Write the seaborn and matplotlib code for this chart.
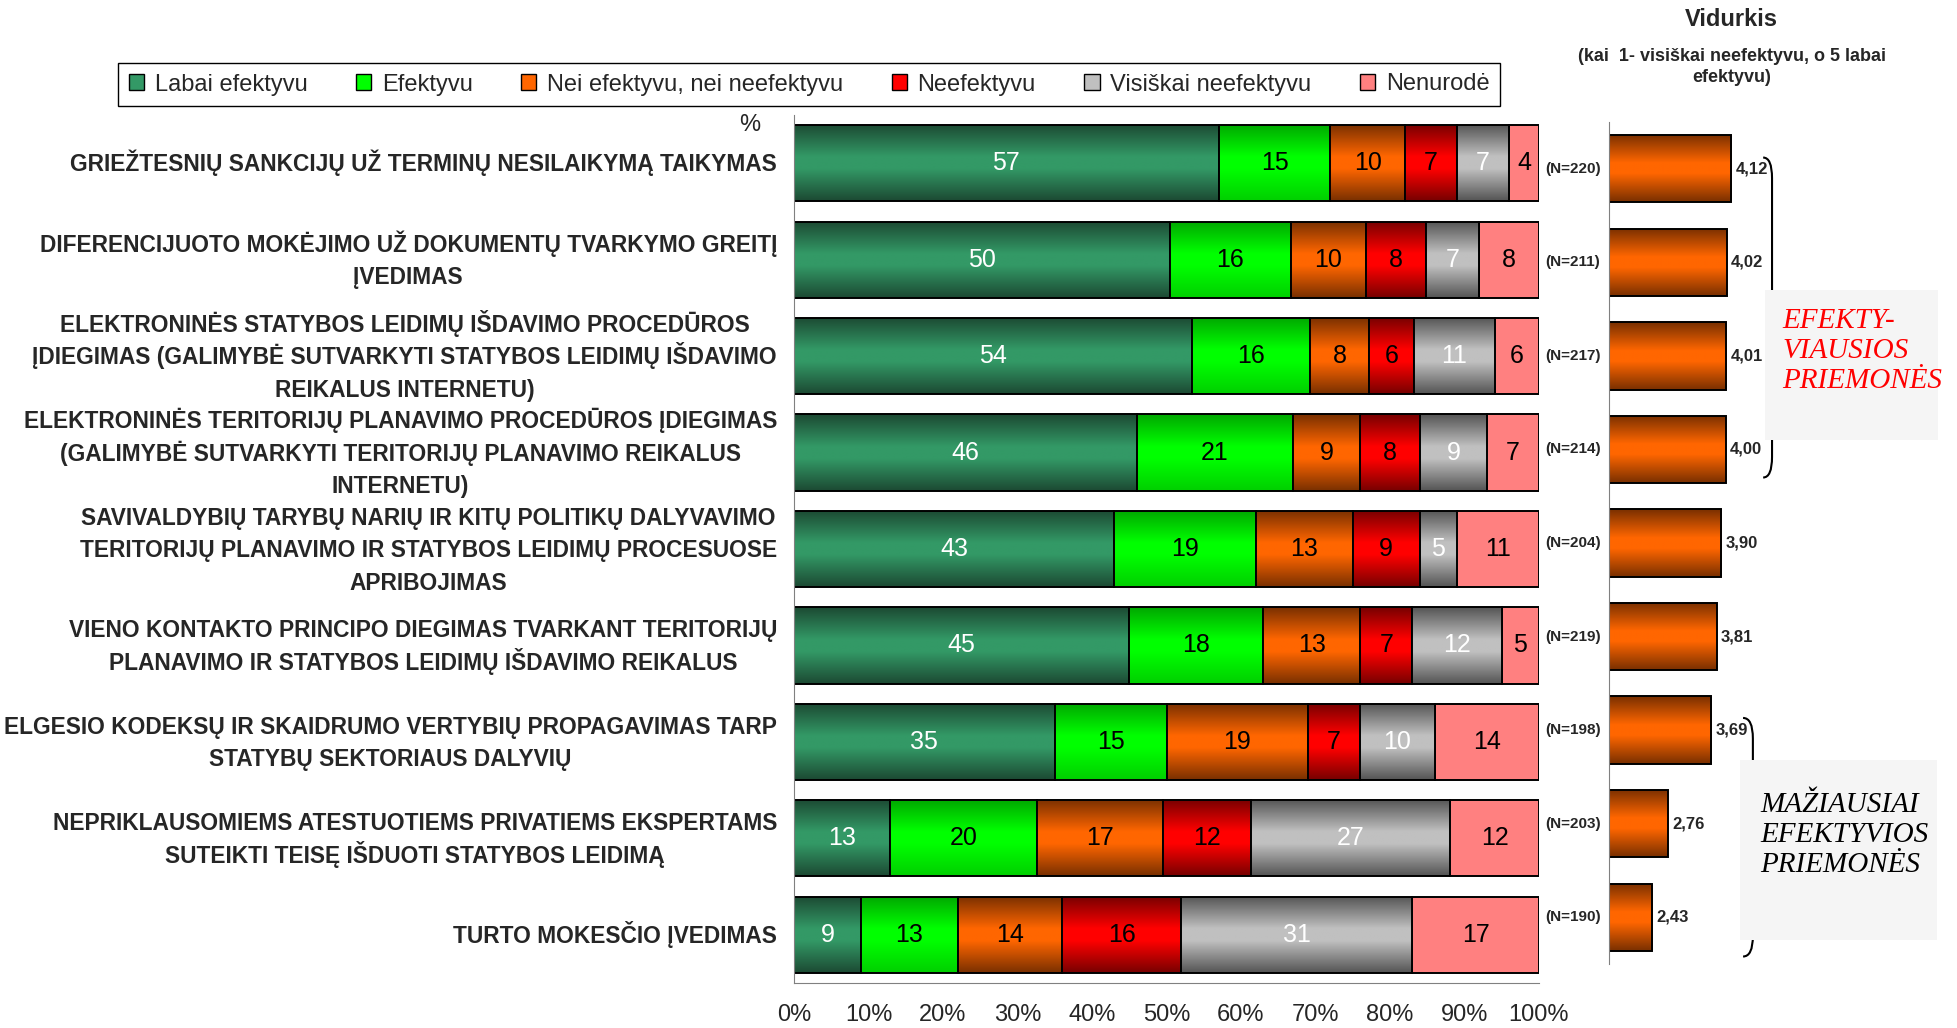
# Priemonių efektyvumo vertinimas: 100% sukrauti stulpeliai + vidurkiai
import numpy as np
import matplotlib
matplotlib.use("Agg")
import matplotlib.pyplot as plt
import seaborn as sns
from matplotlib.colors import LinearSegmentedColormap
from matplotlib.patches import Patch, PathPatch, Rectangle
from matplotlib.path import Path

# --- duomenys ---
labels = [
    "GRIEŽTESNIŲ SANKCIJŲ UŽ TERMINŲ NESILAIKYMĄ TAIKYMAS",
    "DIFERENCIJUOTO MOKĖJIMO UŽ DOKUMENTŲ TVARKYMO GREITĮ\nĮVEDIMAS",
    "ELEKTRONINĖS STATYBOS LEIDIMŲ IŠDAVIMO PROCEDŪROS\nĮDIEGIMAS (GALIMYBĖ SUTVARKYTI STATYBOS LEIDIMŲ IŠDAVIMO\nREIKALUS INTERNETU)",
    "ELEKTRONINĖS TERITORIJŲ PLANAVIMO PROCEDŪROS ĮDIEGIMAS\n(GALIMYBĖ SUTVARKYTI TERITORIJŲ PLANAVIMO REIKALUS\nINTERNETU)",
    "SAVIVALDYBIŲ TARYBŲ NARIŲ IR KITŲ POLITIKŲ DALYVAVIMO\nTERITORIJŲ PLANAVIMO IR STATYBOS LEIDIMŲ PROCESUOSE\nAPRIBOJIMAS",
    "VIENO KONTAKTO PRINCIPO DIEGIMAS TVARKANT TERITORIJŲ\nPLANAVIMO IR STATYBOS LEIDIMŲ IŠDAVIMO REIKALUS",
    "ELGESIO KODEKSŲ IR SKAIDRUMO VERTYBIŲ PROPAGAVIMAS TARP\nSTATYBŲ SEKTORIAUS DALYVIŲ",
    "NEPRIKLAUSOMIEMS ATESTUOTIEMS PRIVATIEMS EKSPERTAMS\nSUTEIKTI TEISĘ IŠDUOTI STATYBOS LEIDIMĄ",
    "TURTO MOKESČIO ĮVEDIMAS",
]
series_names = ["Labai efektyvu", "Efektyvu", "Nei efektyvu, nei neefektyvu",
                "Neefektyvu", "Visiškai neefektyvu", "Nenurodė"]
labai = [57, 50, 54, 46, 43, 45, 35, 13, 9]
efektyvu = [15, 16, 16, 21, 19, 18, 15, 20, 13]
nei = [10, 10, 8, 9, 13, 13, 19, 17, 14]
neefektyvu = [7, 8, 6, 8, 9, 7, 7, 12, 16]
visiskai = [7, 7, 11, 9, 5, 12, 10, 27, 31]
nenurode = [4, 8, 6, 7, 11, 5, 14, 12, 17]
n_resp = [220, 211, 217, 214, 204, 219, 198, 203, 190]
vidurkis = [4.12, 4.02, 4.01, 4.00, 3.90, 3.81, 3.69, 2.76, 2.43]

# --- stiliai ---
base_colors = ["#339966", "#00ff00", "#ff6600", "#ff0000", "#c0c0c0", "#ff8080"]
grad_colors = [
    ["#1c4a33", "#339966", "#339966", "#1c4a33"],
    ["#00a800", "#00ff00", "#00ff00", "#00d000"],
    ["#7a3000", "#ff6600", "#ff6600", "#7a3000"],
    ["#780000", "#ff0000", "#ff0000", "#780000"],
    ["#555555", "#c0c0c0", "#c0c0c0", "#555555"],
    None,
]
text_colors = ["white", "black", "black", "black", "white", "black"]

sns.set_style("white")
plt.rcParams["font.family"] = ["Liberation Sans", "DejaVu Sans"]


def gradient(ax, patch, colors, z):
    x0, y0 = patch.get_x(), patch.get_y()
    w, h = patch.get_width(), patch.get_height()
    x1 = x0 + w
    x0 = max(x0, ax.get_xlim()[0])
    cmap = LinearSegmentedColormap.from_list(
        "g", list(zip([0, 0.42, 0.58, 1], colors)))
    img = np.linspace(0, 1, 100).reshape(-1, 1)
    im = ax.imshow(img, cmap=cmap, extent=(x0, x1, y0 + h, y0),
                   origin="upper", aspect="auto", interpolation="bilinear",
                   zorder=z)
    im.set_clip_path(patch)
    patch.set_facecolor("none")
    patch.set_zorder(z + 0.5)


W, H = 1957, 1028
fig = plt.figure(figsize=(W / 100, H / 100), dpi=100)
ax = fig.add_axes([794 / W, 1 - 983 / H, 745 / W, 868 / H])
ax2 = fig.add_axes([1609 / W, 1 - 964 / H, 163.5 / W, 842 / H])

data = np.array([labai, efektyvu, nei, neefektyvu, visiskai, nenurode], float)
totals = data.sum(axis=0)
cum = np.zeros(len(labels))
for k, vals in enumerate(data):
    right = cum + vals
    sns.barplot(x=right / totals * 100, y=labels, order=labels, orient="h",
                color=base_colors[k], saturation=1, width=0.79,
                edgecolor="black", linewidth=1.4, ax=ax)
    cont = ax.containers[-1]
    ax.set_xlim(0, 100)
    for p, left in zip(cont.patches, cum / totals * 100):
        p.set_width(p.get_width() - left)
        p.set_x(left)
        if grad_colors[k] is not None:
            gradient(ax, p, grad_colors[k], 2 + k)
    ax.bar_label(cont, labels=[str(int(v)) for v in vals], label_type="center",
                 color=text_colors[k], fontsize=18, zorder=20)
    cum = right

ax.set_xlim(0, 100)
ax.set_ylim(len(labels) - 0.5, -0.5)
ax.set_xticks(np.arange(0, 101, 10))
ax.set_xticklabels([f"{v}%" for v in range(0, 101, 10)], fontsize=17)
ax.set_yticks(np.arange(-0.5, len(labels), 1), minor=True)
ax.set_yticklabels([])
ax.tick_params(axis="y", which="major", length=0)
ax.tick_params(axis="y", which="minor", length=5, color="#808080", direction="out")
ax.tick_params(axis="x", length=5, color="#808080", direction="out", pad=10)
for s in ["top", "right"]:
    ax.spines[s].set_visible(False)
for s in ["left", "bottom"]:
    ax.spines[s].set_color("#808080")
ax.set_xlabel("")
ax.set_ylabel("")

# kategorijų užrašai: eilutės centruotos, vienodas tarpas tarp eilučių
lab_fs = 16.4
line_dy = 0.337          # eilučių tarpas kategorijos vienetais
right_pad = 17           # px nuo ašies
renderer = fig.canvas.get_renderer()
for i, lab in enumerate(labels):
    lines = lab.split("\n")
    widths = []
    for ln in lines:
        t = fig.text(0, 0, ln, fontsize=lab_fs, fontweight="bold")
        widths.append(t.get_window_extent(renderer).width)
        t.remove()
    xc = -(right_pad + max(widths) / 2) * 0.72
    for j, ln in enumerate(lines):
        yy = i + (j - (len(lines) - 1) / 2) * line_dy
        ax.annotate(ln, xy=(0, yy), xycoords=("axes fraction", "data"),
                    xytext=(xc, -0.36 * lab_fs), textcoords="offset points",
                    ha="center", va="baseline", fontsize=lab_fs,
                    fontweight="bold", annotation_clip=False)

# --- vidurkiai ---
sns.barplot(x=vidurkis, y=labels, order=labels, orient="h", color="#ff6600",
            saturation=1, width=0.72, edgecolor="black", linewidth=1.4, ax=ax2)
ax2.set_xlim(1.5, 5.0)
cont2 = ax2.containers[-1]
for p in cont2.patches:
    gradient(ax2, p, grad_colors[2], 2)
ax2.bar_label(cont2, labels=[f"{v:.2f}".replace(".", ",") for v in vidurkis],
              padding=3, fontsize=12, fontweight="bold", zorder=20)
ax2.set_xlim(1.5, 5.0)
ax2.set_ylim(len(labels) - 0.5, -0.5)
ax2.set_xticks([])
ax2.set_yticks([])
ax2.set_yticks(np.arange(-0.5, len(labels), 1), minor=True)
ax2.tick_params(axis="y", which="minor", length=5, color="#808080", direction="out")
for s in ["top", "right", "bottom"]:
    ax2.spines[s].set_visible(False)
ax2.spines["left"].set_color("#808080")
ax2.spines["left"].set_zorder(10)
ax2.set_xlabel("")
ax2.set_ylabel("")

for i, n in enumerate(n_resp):
    ax2.annotate(f"(N={n})", xy=(0, i), xycoords=("axes fraction", "data"),
                 xytext=(-46, 0), textcoords="offset points", ha="left",
                 va="center", fontsize=11, fontweight="bold")

# --- antraštės ---
fig.text(1731 / W, 1 - 19 / H, "Vidurkis", ha="center", va="center",
         fontsize=17, fontweight="bold")
fig.text(1732 / W, 1 - 67 / H, "(kai  1- visiškai neefektyvu, o 5 labai\nefektyvu)",
         ha="center", va="center", fontsize=13, fontweight="bold", linespacing=1.25)
fig.text(750 / W, 1 - 125 / H, "%", ha="center", va="center", fontsize=17)

handles = [Patch(facecolor=c, edgecolor="black", linewidth=1) for c in base_colors]
leg = fig.legend(handles, series_names, ncol=6, loc="center",
                 bbox_to_anchor=(809 / W, 1 - 84.5 / H), fontsize=17,
                 handlelength=0.65, handleheight=0.65, handletextpad=0.45,
                 columnspacing=2.05, borderpad=0.45, borderaxespad=0,
                 fancybox=False, framealpha=1, edgecolor="black")
leg.get_frame().set_linewidth(1)

# --- skliaustai ir grupių užrašai ---
def brace(axx, y0, y1, ym, xe, xs, xc, r=0.22):
    verts = [(xe, y0), (xs, y0), (xs, y0 + r), (xs, ym - r), (xs, ym), (xc, ym),
             (xs, ym), (xs, ym + r), (xs, y1 - r), (xs, y1), (xe, y1)]
    codes = [Path.MOVETO, Path.CURVE3, Path.CURVE3, Path.LINETO, Path.CURVE3,
             Path.CURVE3, Path.CURVE3, Path.CURVE3, Path.LINETO, Path.CURVE3,
             Path.CURVE3]
    axx.add_patch(PathPatch(Path(verts, codes), fill=False, lw=1.5,
                            edgecolor="black", clip_on=False))

fig.patches.append(Rectangle((1765 / W, 1 - 440 / H), 173 / W, 150 / H,
                             transform=fig.transFigure, facecolor="#f5f5f5",
                             edgecolor="none", zorder=0))
fig.patches.append(Rectangle((1740 / W, 1 - 940 / H), 197 / W, 180 / H,
                             transform=fig.transFigure, facecolor="#f5f5f5",
                             edgecolor="none", zorder=0))
brace(ax2, -0.12, 3.3, 1.6, 4.80, 4.99, 5.14)
brace(ax2, 5.87, 8.42, 7.14, 4.37, 4.58, 4.77)

fig.text(1782 / W, 1 - 351 / H, "EFEKTY-\nVIAUSIOS\nPRIEMONĖS", ha="left",
         va="center", color="#ff0000", fontsize=21, style="italic",
         family=["Liberation Serif", "DejaVu Serif"], linespacing=1.2)
fig.text(1760 / W, 1 - 835 / H, "MAŽIAUSIAI\nEFEKTYVIOS\nPRIEMONĖS", ha="left",
         va="center", color="black", fontsize=21, style="italic",
         family=["Liberation Serif", "DejaVu Serif"], linespacing=1.2)

fig.savefig("out.png", dpi=100)
